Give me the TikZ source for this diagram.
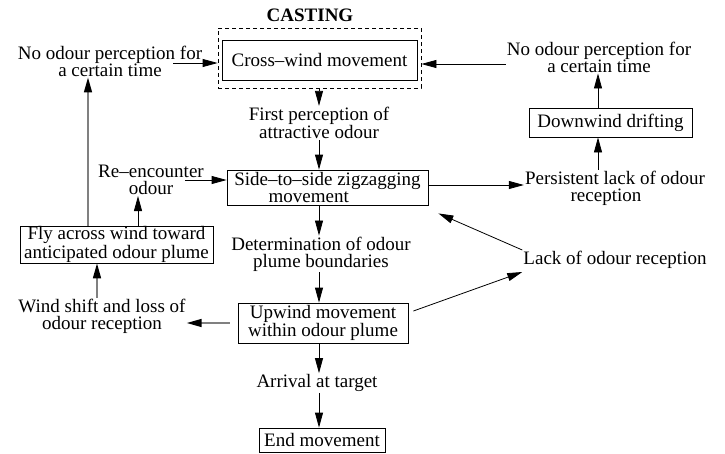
\documentclass[tikz,border=0pt]{standalone}
\usepackage{fontspec}
\setmainfont{Liberation Serif}
\usetikzlibrary{arrows.meta, positioning}

\tikzset{
  txt/.style={align=center, inner sep=1pt, font=\fontsize{19}{17}\selectfont},
  box/.style={txt, draw, line width=0.8pt, inner sep=0pt},
  arr/.style={-{Triangle[length=15pt,width=8pt]}, line width=0.8pt},
  garr/.style={draw=gray, line width=1.6pt, -{Triangle[length=15pt,width=8pt,color=black]}}
}

\begin{document}
\begin{tikzpicture}[x=1pt, y=-1pt]
            \useasboundingbox (0,0) rectangle (725,453);

            % casting block
            \node[font=\fontsize{19}{19}\selectfont\bfseries] (cast) at (310,15) {CASTING};
            \node[draw, dash pattern=on 4pt off 3pt, line width=0.8pt, minimum width=203, minimum height=60] (castbox) at (319.5,58) {};
            \node[box, minimum width=195, minimum height=40] (cross) at (319.5,60) {Cross--wind movement};

            % main column
            \node[txt] (first) at (319,123) {First perception of\\attractive odour};
            \node[box, minimum width=201, minimum height=35, align=left] (zigzag) at (327.5,187.5)
                {Side--to--side zigzagging\\\hspace*{1.8em}movement};
            \node[txt] (determ) at (321,254) {Determination of odour\\plume boundaries};
            \node[box, minimum width=170, minimum height=40] (upwind) at (323,323) {Upwind movement\\within odour plume};
            \node[txt] (arrival) at (317,383) {Arrival at target};
            \node[box, minimum width=126, minimum height=24] (endmove) at (322,440) {End movement};

            % left side
            \node[txt] (noleft) at (110,61) {No odour perception for\\a certain time};
            \node[txt] (reenc) at (151,180) {Re--encounter\\odour};
            \node[box, minimum width=193, minimum height=37] (fly) at (116.5,244.5) {Fly across wind toward\\anticipated odour plume};
            \node[txt] (wind) at (102,316) {Wind shift and loss of\\odour reception};

            % right side
            \node[txt] (noright) at (599,57) {No odour perception for\\a certain time};
            \node[box, minimum width=163, minimum height=29] (downwind) at (610.5,122.5) {Downwind drifting};
            \node[txt, align=left] (persist) at (615,188) {Persistent lack of odour\\\hspace*{2.4em}reception};
            \node[txt] (lack) at (615,260) {Lack of odour reception};

            % column arrows
            \draw[arr] (castbox.south -| first) -- (first.north);
            \draw[arr] (first.south) -- (zigzag.north -| first);
            \draw[arr] (zigzag.south -| first) -- (determ.north -| first);
            \draw[arr] (determ.south -| first) -- (upwind.north -| first);
            \draw[arr] (upwind.south -| first) -- (arrival.north -| first);
            \draw[arr] (arrival.south -| first) -- (endmove.north -| first);

            % into casting
            \draw[arr] ([xshift=-30pt,yshift=-2pt]noleft.east) -- (castbox.west |- 0,63);
            \draw[arr] ([yshift=-7pt]noright.west) -- (castbox.east |- 0,64);

            % right loop
            \draw[arr] (zigzag.east |- 0,185) -- (persist.west |- 0,185);
            \draw[arr] (persist.north -| 598,0) -- (downwind.south -| 598,0);
            \draw[arr] (downwind.north -| 598,0) -- (noright.south -| 598,0);
            \draw[arr] ([yshift=10pt]lack.west) -- ([xshift=10pt,yshift=-8pt]zigzag.south east);
            \draw[arr] ([xshift=5pt,yshift=12pt]upwind.east) -- ([yshift=-12pt]lack.west);

            % left loop
            \draw[arr] ([xshift=-20pt]reenc.east) -- (reenc.east -| zigzag.west);
            \draw[arr] (fly.north -| 138,0) -- (reenc.south -| 138,0);
            \draw[garr] ([xshift=-8pt]upwind.west) -- (wind.east |- upwind.west);
            \draw[garr] (wind.north -| 97,0) -- (fly.south -| 97,0);
            \draw[garr] (fly.north -| 88,0) -- (noleft.south -| 88,0);
        \end{tikzpicture}
\end{document}
